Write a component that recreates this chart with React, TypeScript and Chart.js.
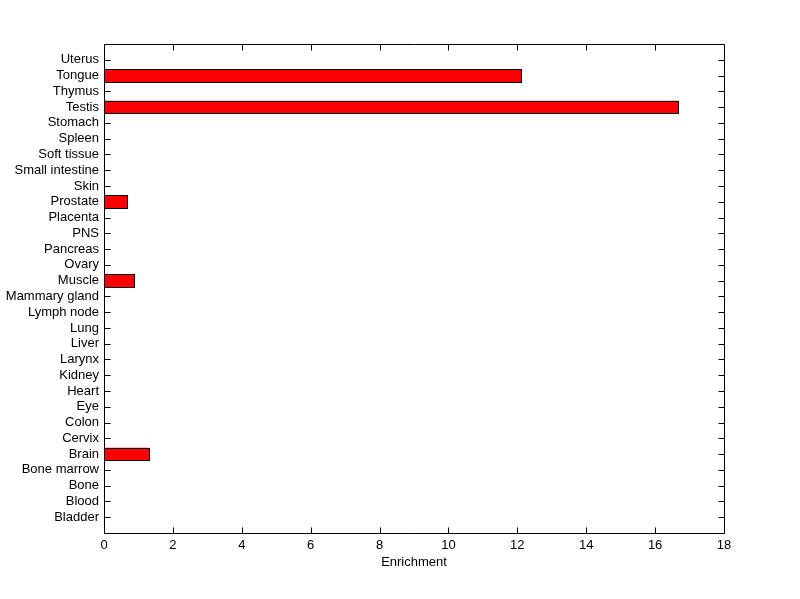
import React, { useEffect, useRef } from "react";
import { Chart, registerables } from "chart.js";

Chart.register(...registerables);

const categories = [
  "Bladder", "Blood", "Bone", "Bone marrow", "Brain", "Cervix", "Colon", "Eye",
  "Heart", "Kidney", "Larynx", "Liver", "Lung", "Lymph node", "Mammary gland",
  "Muscle", "Ovary", "Pancreas", "PNS", "Placenta", "Prostate", "Skin",
  "Small intestine", "Soft tissue", "Spleen", "Stomach", "Testis", "Thymus",
  "Tongue", "Uterus",
];
const enrichment = [
  0, 0, 0, 0, 1.3, 0, 0, 0,
  0, 0, 0, 0, 0, 0, 0,
  0.88, 0, 0, 0, 0, 0.66, 0,
  0, 0, 0, 0, 16.65, 0,
  12.1, 0,
];
const xTicks = [0, 2, 4, 6, 8, 10, 12, 14, 16, 18];
const xTitle = "Enrichment";

const FONT = "Liberation Sans, Arial, Helvetica, sans-serif";

const insideTicks = {
  id: "insideTicks",
  beforeDatasetsDraw(chart: any) {
    const { ctx, chartArea: a } = chart;
    const xs = chart.scales.x;
    const ys = chart.scales.y;
    ctx.save();
    ctx.strokeStyle = "#000";
    ctx.lineWidth = 1;
    ctx.beginPath();
    const L = 6;
    const top = Math.round(a.top) + 0.5;
    const bottom = Math.round(a.bottom) + 0.5;
    const left = Math.round(a.left) + 0.5;
    const right = Math.round(a.right) + 0.5;
    xs.ticks.forEach((t: any) => {
      const px = Math.round(xs.getPixelForValue(t.value)) + 0.5;
      ctx.moveTo(px, bottom);
      ctx.lineTo(px, bottom - L);
      ctx.moveTo(px, top);
      ctx.lineTo(px, top + L);
    });
    for (let i = 1; i <= categories.length; i++) {
      const py = Math.round(ys.getPixelForValue(i)) + 0.5;
      ctx.moveTo(left, py);
      ctx.lineTo(left + L, py);
      ctx.moveTo(right, py);
      ctx.lineTo(right - L, py);
    }
    ctx.stroke();
    ctx.restore();
  },
  afterDatasetsDraw(chart: any) {
    const { ctx, chartArea: a } = chart;
    ctx.save();
    ctx.strokeStyle = "#000";
    ctx.lineWidth = 1;
    const meta = chart.getDatasetMeta(0);
    meta.data.forEach((bar: any) => {
      if (bar.skip || bar.x == null || Math.abs(bar.x - bar.base) < 0.5) return;
      const x0 = Math.round(Math.min(bar.x, bar.base));
      const x1 = Math.round(Math.max(bar.x, bar.base));
      const y0 = Math.round(bar.y - bar.height / 2);
      const y1 = Math.round(bar.y + bar.height / 2);
      ctx.fillStyle = "#ff0000";
      ctx.fillRect(x0, y0, x1 - x0, y1 - y0);
      ctx.strokeRect(x0 + 0.5, y0 + 0.5, x1 - x0, y1 - y0);
    });
    ctx.beginPath();
    ctx.rect(Math.round(a.left) + 0.5, Math.round(a.top) + 0.5, Math.round(a.right - a.left), Math.round(a.bottom - a.top));
    ctx.stroke();
    ctx.restore();
  },
};

export default function App() {
  const ref = useRef<HTMLCanvasElement>(null);
  useEffect(() => {
    const labels = ["", ...categories, ""];
    const data = [null, ...enrichment, null];
    const chart = new Chart(ref.current!, {
      type: "bar",
      data: {
        labels,
        datasets: [
          {
            data: data as any,
            backgroundColor: "#ff0000",
            borderWidth: 0,
            inflateAmount: 0,
            barPercentage: 0.8,
            categoryPercentage: 1,
          },
        ],
      },
      options: {
        indexAxis: "y",
        animation: false,
        responsive: false,
        maintainAspectRatio: false,
        layout: { padding: { top: 44, right: 76, left: 0, bottom: 29 } },
        plugins: { legend: { display: false }, tooltip: { enabled: false } },
        scales: {
          x: {
            type: "linear",
            min: 0,
            max: 18,
            afterBuildTicks: (s: any) => {
              s.ticks = xTicks.map((v) => ({ value: v }));
            },
            afterFit: (s: any) => {
              s.height = 37;
            },
            ticks: {
              color: "#000",
              font: { family: FONT, size: 13 },
              padding: 5,
              maxRotation: 0,
            },
            grid: { display: false, drawTicks: false },
            border: { display: false },
            title: {
              display: true,
              text: xTitle,
              color: "#000",
              font: { family: FONT, size: 13 },
              padding: { top: 0, bottom: 0 },
            },
          },
          y: {
            type: "category",
            reverse: true,
            offset: false,
            afterFit: (s: any) => {
              s.width = 104;
            },
            ticks: {
              color: "#000",
              font: { family: FONT, size: 13 },
              padding: 5,
              autoSkip: false,
            },
            grid: { display: false, drawTicks: false },
            border: { display: false },
          },
        },
      },
      plugins: [insideTicks],
    });
    return () => chart.destroy();
  }, []);
  return (
    <div style={{ position: "fixed", left: 0, top: 0, width: 800, height: 599, background: "#fff" }}>
      <canvas ref={ref} width={800} height={599} style={{ width: 800, height: 599 }} />
    </div>
  );
}
